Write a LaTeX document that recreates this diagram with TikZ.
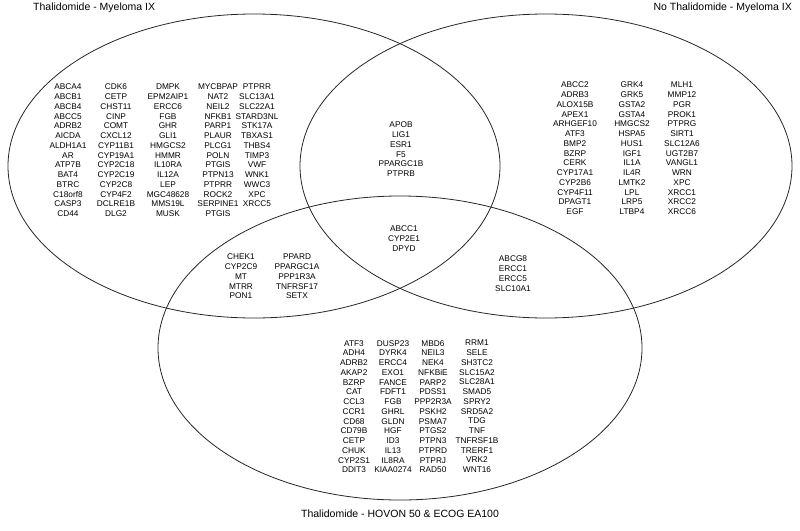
\documentclass[tikz,border=0pt]{standalone}
\usepackage{fontspec}
\setmainfont{Liberation Sans}

\begin{document}
\begin{tikzpicture}[x=1pt,y=-1pt,
  genes/.style={align=center,inner sep=0pt,anchor=north,font=\fontsize{8.3}{9.75}\selectfont},
  setname/.style={inner sep=0pt,font=\fontsize{10.5}{12}\selectfont},
  venn/.style={draw=black!85,line width=0.8pt}]
  \useasboundingbox (0,0) rectangle (800,530);
  \draw[venn] (254,166) ellipse [x radius=246pt,y radius=152pt];
  \draw[venn] (546,166) ellipse [x radius=246pt,y radius=152pt];
  \draw[venn] (400,348) ellipse [x radius=242pt,y radius=152pt];

  \node[setname,anchor=west] (tl) at (33,8) {Thalidomide - Myeloma IX};
  \node[setname,anchor=east] (tr) at (792,8) {No Thalidomide - Myeloma IX};
  \node[setname] (tb) at (400,514) {Thalidomide - HOVON 50 \& ECOG EA100};

  \node[genes] (l1) at (68,84) {ABCA4\\ABCB1\\ABCB4\\ABCC5\\ADRB2\\AICDA\\ALDH1A1\\AR\\ATP7B\\BAT4\\BTRC\\C18orf8\\CASP3\\CD44};
  \node[genes] (l2) at (116,84) {CDK6\\CETP\\CHST11\\CINP\\COMT\\CXCL12\\CYP11B1\\CYP19A1\\CYP2C18\\CYP2C19\\CYP2C8\\CYP4F2\\DCLRE1B\\DLG2};
  \node[genes] (l3) at (168,84) {DMPK\\EPM2AIP1\\ERCC6\\FGB\\GHR\\GLI1\\HMGCS2\\HMMR\\IL10RA\\IL12A\\LEP\\MGC48628\\MMS19L\\MUSK};
  \node[genes] (l4) at (218,84) {MYCBPAP\\NAT2\\NEIL2\\NFKB1\\PARP1\\PLAUR\\PLCG1\\POLN\\PTGIS\\PTPN13\\PTPRR\\ROCK2\\SERPINE1\\PTGIS};
  \node[genes] (l5) at (257,84) {PTPRR\\SLC13A1\\SLC22A1\\STARD3NL\\STK17A\\TBXAS1\\THBS4\\TIMP3\\VWF\\WNK1\\WWC3\\XPC\\XRCC5};

  \node[genes] (lr) at (401,122) {APOB\\LIG1\\ESR1\\F5\\PPARGC1B\\PTPRB};

  \node[genes] (r1) at (575,82) {ABCC2\\ADRB3\\ALOX15B\\APEX1\\ARHGEF10\\ATF3\\BMP2\\BZRP\\CERK\\CYP17A1\\CYP2B6\\CYP4F11\\DPAGT1\\EGF};
  \node[genes] (r2) at (632,82) {GRK4\\GRK5\\GSTA2\\GSTA4\\HMGCS2\\HSPA5\\HUS1\\IGF1\\IL1A\\IL4R\\LMTK2\\LPL\\LRP5\\LTBP4};
  \node[genes] (r3) at (682,82) {MLH1\\MMP12\\PGR\\PROK1\\PTPRG\\SIRT1\\SLC12A6\\UGT2B7\\VANGL1\\WRN\\XPC\\XRCC1\\XRCC2\\XRCC6};

  \node[genes] (lrb) at (404,226) {ABCC1\\CYP2E1\\DPYD};

  \node[genes] (lb1) at (241,254) {CHEK1\\CYP2C9\\MT\\MTRR\\PON1};
  \node[genes] (lb2) at (297,254) {PPARD\\PPARGC1A\\PPP1R3A\\TNFRSF17\\SETX};

  \node[genes] (rb) at (513,256) {ABCG8\\ERCC1\\ERCC5\\SLC10A1};

  \node[genes] (b1) at (354,340) {ATF3\\ADH4\\ADRB2\\AKAP2\\BZRP\\CAT\\CCL3\\CCR1\\CD68\\CD79B\\CETP\\CHUK\\CYP2S1\\DDIT3};
  \node[genes] (b2) at (393,340) {DUSP23\\DYRK4\\ERCC4\\EXO1\\FANCE\\FDFT1\\FGB\\GHRL\\GLDN\\HGF\\ID3\\IL13\\IL8RA\\KIAA0274};
  \node[genes] (b3) at (433,340) {MBD6\\NEIL3\\NEK4\\NFKBiE\\PARP2\\PDSS1\\PPP2R3A\\PSKH2\\PSMA7\\PTGS2\\PTPN3\\PTPRD\\PTPRJ\\RAD50};
  \node[genes] (b4) at (477,340) {RRM1\\SELE\\SH3TC2\\SLC15A2\\SLC28A1\\SMAD5\\SPRY2\\SRD5A2\\TDG\\TNF\\TNFRSF1B\\TRERF1\\VRK2\\WNT16};
\end{tikzpicture}
\end{document}
